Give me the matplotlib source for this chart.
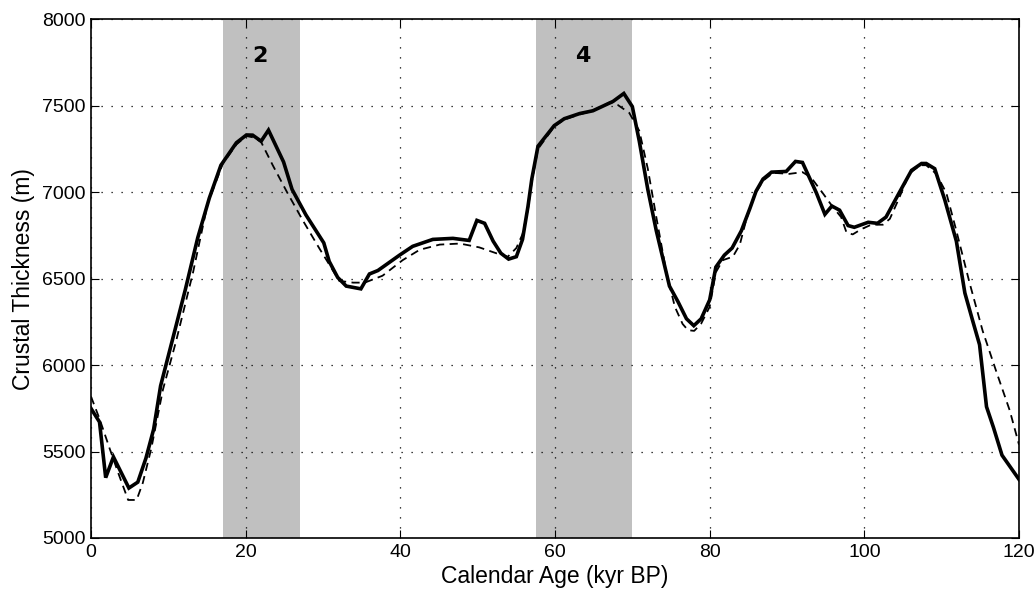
import matplotlib
matplotlib.use("Agg")
import matplotlib.pyplot as plt

plt.rcParams['font.family'] = ['Liberation Sans', 'DejaVu Sans']

# Solid line (model / reconstruction)
solid_age = [0.0, 1.1, 1.9, 2.9, 4.9, 6.05, 7.1, 8.1, 9.0, 10.6, 12.2, 13.8, 15.3, 16.8,
             18.8, 20.1, 20.9, 22.0, 22.95, 24.9, 26.0, 27.8, 30.1, 30.8, 31.9, 33.0,
             34.9, 36.0, 37.1, 39.9, 41.6, 44.2, 46.8, 48.9, 49.9, 50.9, 52.0, 53.0,
             54.0, 55.0, 55.8, 56.5, 57.0, 57.8, 59.9, 61.2, 63.2, 64.9, 67.5, 68.9,
             70.0, 70.9, 72.0, 73.1, 74.8, 75.9, 77.0, 77.95, 78.9, 80.0, 80.8, 81.9,
             82.9, 84.1, 85.2, 86.0, 86.9, 88.0, 89.9, 91.1, 92.0, 93.8, 94.9, 95.8,
             96.8, 97.9, 98.7, 100.5, 101.7, 102.8, 104.5, 106.1, 107.4, 108.0, 109.1,
             110.4, 111.9, 113.0, 114.0, 114.9, 115.8, 116.7, 117.8, 120.0]
solid_thk = [5749, 5671, 5349, 5469, 5289, 5323, 5461, 5629, 5880, 6158, 6437, 6736, 6966, 7156,
             7286, 7331, 7330, 7295, 7359, 7175, 7016, 6868, 6707, 6600, 6507, 6457,
             6441, 6527, 6547, 6636, 6687, 6727, 6733, 6721, 6837, 6820, 6717, 6647,
             6613, 6627, 6727, 6916, 7076, 7266, 7385, 7425, 7455, 7471, 7525, 7571,
             7495, 7295, 7016, 6777, 6457, 6367, 6268, 6228, 6268, 6377, 6567, 6636,
             6677, 6777, 6906, 7006, 7076, 7116, 7120, 7178, 7172, 6996, 6872, 6920,
             6896, 6807, 6797, 6826, 6820, 6856, 6996, 7126, 7166, 7166, 7136,
             6956, 6717, 6417, 6258, 6118, 5759, 5639, 5479, 5339]

# Dashed line
dash_age = [0.0, 1.1, 2.4, 3.5, 4.8, 5.9, 6.7, 7.8, 9.3, 11.0, 13.2, 15.1, 17.05, 18.8,
            20.1, 21.1, 22.0, 23.5, 25.4, 27.4, 29.5, 30.6, 32.1, 33.9, 35.4, 37.7,
            40.3, 42.5, 45.1, 47.7, 50.2, 52.4, 53.9, 55.0, 55.8, 56.5, 57.0, 57.8,
            59.9, 61.2, 63.2, 64.9, 67.05, 68.1, 69.6, 70.9, 72.0, 73.1, 74.4, 75.5,
            76.5, 77.2, 78.0, 78.9, 80.0, 80.8, 81.7, 83.0, 83.9, 84.7, 85.8, 86.9,
            88.2, 90.3, 92.0, 93.1, 94.6, 95.9, 97.0, 97.7, 98.5, 99.6, 100.9, 102.4,
            103.3, 104.5, 105.8, 107.2, 108.0, 109.3, 110.6, 111.9, 113.6, 115.3,
            117.1, 118.8, 120.0]
dash_thk = [5818, 5690, 5519, 5379, 5220, 5220, 5319, 5519, 5858, 6138, 6537, 6936, 7166, 7276,
            7325, 7316, 7290, 7156, 6996, 6836, 6677, 6597, 6487, 6477, 6477, 6517,
            6607, 6667, 6697, 6703, 6681, 6647, 6627, 6677, 6757, 6900, 7060, 7250,
            7380, 7420, 7450, 7471, 7519, 7505, 7459, 7355, 7136, 6856, 6537, 6337,
            6238, 6202, 6198, 6240, 6337, 6537, 6607, 6627, 6697, 6836, 6986, 7066,
            7112, 7106, 7116, 7086, 6996, 6916, 6856, 6766, 6756, 6786, 6812, 6812,
            6846, 6966, 7106, 7156, 7156, 7106, 6996, 6777, 6477, 6198,
            5958, 5738, 5540]

# Shaded stadials
shade_spans = [(17.1, 27.0), (57.6, 69.9)]
shade_labels = ["2", "4"]
shade_label_x = [21.8, 63.6]
shade_label_y = 7790

xticks = [0, 20, 40, 60, 80, 100, 120]
yticks = [5000, 5500, 6000, 6500, 7000, 7500, 8000]

fig = plt.figure(figsize=(10.35, 5.9), dpi=100)
ax = fig.add_axes([91 / 1035, 1 - 538 / 590, 928 / 1035, (538 - 19.3) / 590])

for (a, b) in shade_spans:
    ax.axvspan(a, b, color='#c0c0c0', lw=0, zorder=0)
for lab, lx in zip(shade_labels, shade_label_x):
    ax.text(lx, shade_label_y, lab, fontsize=16, fontweight='bold',
            ha='center', va='center', family=['DejaVu Sans'], zorder=5)

ax.plot(dash_age, dash_thk, color='black', lw=1.3, ls=(0, (4.5, 3)), zorder=3)
ax.plot(solid_age, solid_thk, color='black', lw=2.6, zorder=4,
        solid_joinstyle='miter')

ax.set_xlim(0, 120)
ax.set_ylim(5000, 8000)
ax.set_xticks(xticks)
ax.set_yticks(yticks)
ax.tick_params(direction='in', top=True, right=True, length=6, width=0.8,
               labelsize=14, pad=4)
ax.grid(True, color='black', linestyle=(0, (1, 7)), linewidth=0.9)
ax.set_axisbelow(False)
for sp in ax.spines.values():
    sp.set_linewidth(1.2)
    sp.set_zorder(6)

ax.set_xlabel('Calendar Age (kyr BP)', fontsize=16.5, labelpad=3)
ax.set_ylabel('Crustal Thickness (m)', fontsize=16.5, labelpad=5)

fig.savefig('out.png', dpi=100)
